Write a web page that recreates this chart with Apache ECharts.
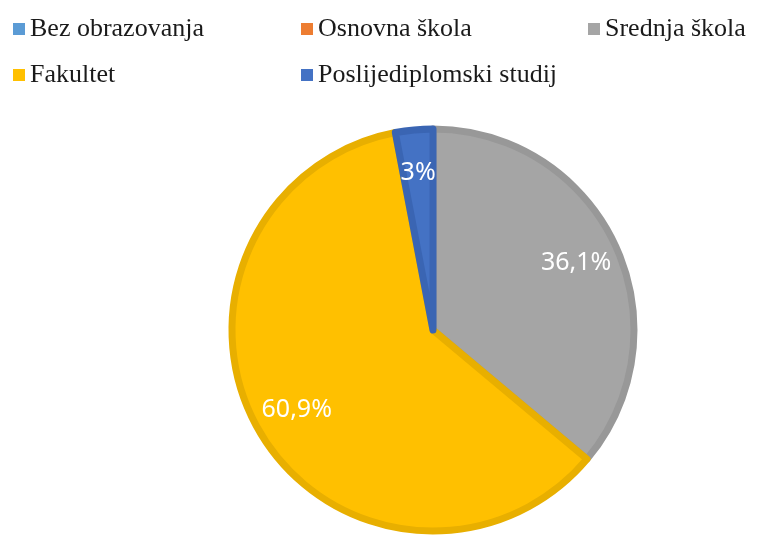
<!DOCTYPE html>
<html>
<head>
<meta charset="utf-8">
<script src="https://cdn.jsdelivr.net/npm/echarts@6/dist/echarts.min.js"></script>
<style>
  html, body { margin: 0; padding: 0; background: #fff; }
  #chart { width: 758px; height: 538px; }
</style>
</head>
<body>
<div id="chart"></div>
<script>
// data
const categories = ['Bez obrazovanja', 'Osnovna škola', 'Srednja škola', 'Fakultet', 'Poslijediplomski studij']
const values = [0, 0, 36.1, 60.9, 3]
const colors = ['#5B9BD5', '#ED7D31', '#A5A5A5', '#FFC000', '#4472C4']
const borders = ['#5B9BD5', '#ED7D31', '#989898', '#E8AF00', '#3A65B3']

const chart = echarts.init(document.getElementById('chart'))

const legendText = {
  fontFamily: 'Liberation Serif',
  fontSize: 26,
  color: '#1a1a1a'
}

function legendAt(left, names) {
  return {
    orient: 'vertical',
    left: left,
    top: 11,
    itemGap: 20,
    icon: 'rect',
    itemWidth: 12,
    itemHeight: 12,
    itemStyle: { borderWidth: 0 },
    textStyle: legendText,
    data: names,
    selectedMode: false
  }
}

const mainData = categories.map((name, i) => ({
  name: name,
  value: values[i],
  itemStyle: {
    color: colors[i],
    borderColor: borders[i],
    borderWidth: values[i] > 0 ? 7 : 0
  }
}))

const labelData = categories.map((name, i) => ({
  name: name,
  value: values[i]
}))

chart.setOption({
  animation: false,
  legend: [
    legendAt(8, [categories[0], categories[3]]),
    legendAt(296, [categories[1], categories[4]]),
    legendAt(583, [categories[2]])
  ],
  series: [
    {
      type: 'pie',
      center: [433, 330],
      radius: 201,
      startAngle: 90,
      clockwise: true,
      silent: true,
      label: { show: false },
      labelLine: { show: false },
      data: mainData
    },
    {
      // transparent ring, only used to place the percent labels
      type: 'pie',
      center: [433, 330],
      radius: [106, 204],
      startAngle: 90,
      clockwise: true,
      silent: true,
      itemStyle: { color: 'rgba(0,0,0,0)', borderWidth: 0 },
      label: {
        show: true,
        position: 'inside',
        color: '#fff',
        fontFamily: 'Noto Sans',
        fontSize: 25,
        formatter: p => p.value > 0 ? String(p.value).replace('.', ',') + '%' : ''
      },
      labelLine: { show: false },
      data: labelData
    }
  ]
})
</script>
</body>
</html>
